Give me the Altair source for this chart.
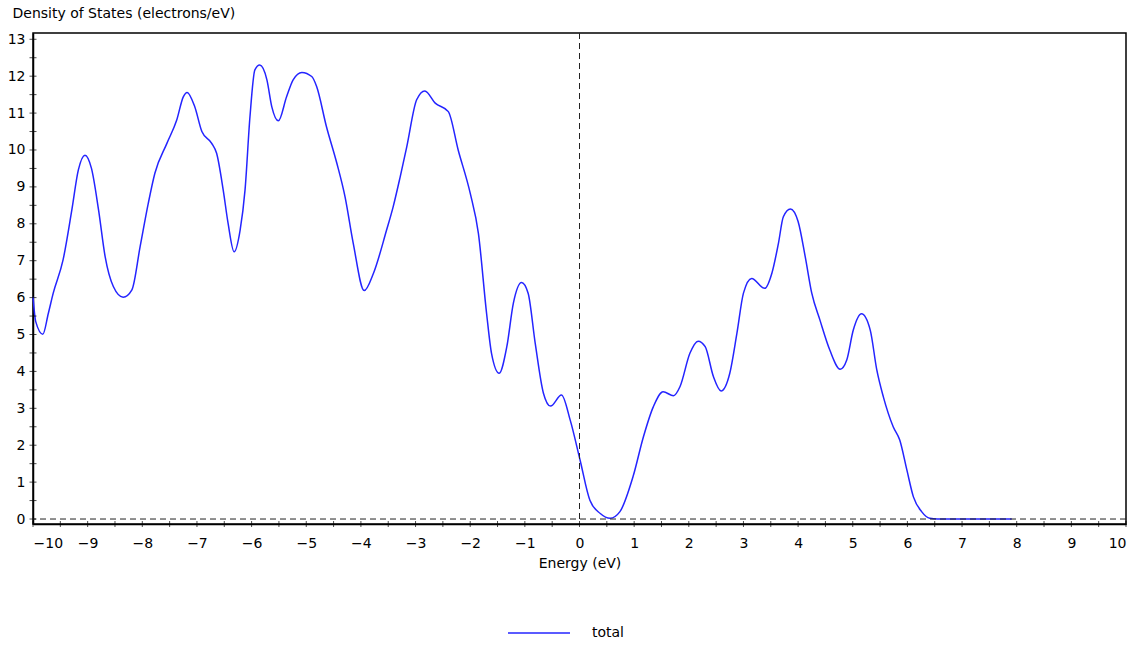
import altair as alt
import pandas as pd

# Total density of states vs energy
energy = [
    -10.00, -9.95, -9.82, -9.72, -9.63, -9.45, -9.29, -9.17, -9.05, -8.93,
    -8.80, -8.68, -8.53, -8.35, -8.19, -8.04, -7.89, -7.77, -7.55, -7.37,
    -7.25, -7.18, -7.04, -6.91, -6.73, -6.64, -6.52, -6.43, -6.32, -6.21,
    -6.12, -6.03, -5.94, -5.85, -5.72, -5.63, -5.51, -5.36, -5.24, -5.08,
    -4.90, -4.81, -4.63, -4.44, -4.29, -4.14, -3.94, -3.77, -3.53, -3.41,
    -3.28, -3.16, -2.98, -2.83, -2.64, -2.40, -2.22, -2.00, -1.85, -1.70,
    -1.61, -1.47, -1.33, -1.21, -1.06, -0.94, -0.81, -0.66, -0.53, -0.33,
    -0.17, 0.01, 0.19, 0.38, 0.56, 0.74, 0.98, 1.17, 1.35, 1.53,
    1.72, 1.84, 2.02, 2.17, 2.30, 2.45, 2.59, 2.75, 2.88, 3.00,
    3.15, 3.39, 3.52, 3.64, 3.73, 3.86, 4.00, 4.13, 4.25, 4.40,
    4.58, 4.77, 4.89, 5.01, 5.16, 5.32, 5.44, 5.56, 5.74, 5.86,
    5.99, 6.11, 6.26, 6.41, 6.55, 7.91,
]
dos = [
    6.02, 5.35, 5.01, 5.57, 6.12, 7.02, 8.37, 9.46, 9.86, 9.50,
    8.37, 7.11, 6.30, 6.01, 6.21, 7.38, 8.56, 9.37, 10.18, 10.81,
    11.44, 11.56, 11.17, 10.50, 10.18, 9.91, 8.92, 8.01, 7.24, 7.83,
    8.92, 10.90, 12.17, 12.30, 11.90, 11.17, 10.79, 11.44, 11.90, 12.10,
    11.99, 11.72, 10.63, 9.64, 8.73, 7.47, 6.19, 6.66, 7.83, 8.46,
    9.28, 10.09, 11.36, 11.60, 11.27, 11.04, 10.00, 8.83, 7.74, 5.57,
    4.49, 3.95, 4.67, 5.85, 6.41, 6.12, 4.76, 3.41, 3.06, 3.36,
    2.68, 1.60, 0.51, 0.15, 0.02, 0.20, 1.15, 2.23, 3.04, 3.45,
    3.34, 3.59, 4.49, 4.82, 4.67, 3.86, 3.47, 3.95, 5.03, 6.12,
    6.52, 6.25, 6.66, 7.47, 8.19, 8.40, 8.06, 7.11, 6.12, 5.39,
    4.58, 4.06, 4.31, 5.12, 5.56, 5.12, 4.04, 3.31, 2.50, 2.14,
    1.33, 0.60, 0.20, 0.02, 0.00, 0.00,
]
series_name = "total"

x_tick_values = [v / 2 for v in range(-20, 21)]     # every 0.5 eV
y_tick_values = [v / 2 for v in range(0, 27)]       # every 0.5 states
x_label_values = list(range(-10, 11))
y_label_values = list(range(0, 14))

W, H = 1093, 491
FONT = "DejaVu Sans"
LINE_BLUE = "#2424ff"

df = pd.DataFrame({"energy": energy, "dos": dos, "series": series_name})
xticks = pd.DataFrame({"v": x_tick_values})
yticks = pd.DataFrame({"v": y_tick_values})

x_scale = alt.Scale(domain=[-10, 10], nice=False, zero=False)
y_scale = alt.Scale(domain=[-0.135, 13.17], nice=False, zero=False)

# one axis definition shared by every layer so the merged axes agree
x_axis = alt.Axis(
    values=x_label_values,
    ticks=False,
    grid=False,
    labelOverlap=False,
    labelPadding=12,
    title="Energy (eV)",
    titlePadding=6,
)
y_axis = alt.Axis(
    values=y_label_values,
    ticks=False,
    grid=False,
    labelOverlap=False,
    labelPadding=8,
    title="Density of States (electrons/eV)",
    titleAngle=0,
    titleAlign="left",
    titleBaseline="middle",
    titleX=-21,
    titleY=-20,
)

curve = alt.Chart(df).mark_line(strokeWidth=1.5, interpolate="monotone").encode(
    x=alt.X("energy:Q", scale=x_scale, axis=x_axis),
    y=alt.Y("dos:Q", scale=y_scale, axis=y_axis),
    color=alt.Color(
        "series:N",
        scale=alt.Scale(domain=[series_name], range=[LINE_BLUE]),
        legend=alt.Legend(
            title=None,
            orient="none",
            legendX=474,
            legendY=568,
            symbolType="stroke",
            symbolSize=3844,
            symbolStrokeWidth=1.5,
            labelOffset=21,
            labelFontSize=14,
            labelFont=FONT,
            labelColor="#000000",
            padding=0,
        ),
    ),
)

zero_line = alt.Chart(pd.DataFrame({"y": [0]})).mark_rule(
    color="#222222", strokeWidth=1, strokeDash=[6, 4]
).encode(y=alt.Y("y:Q", scale=y_scale, axis=y_axis))

fermi_line = alt.Chart(pd.DataFrame({"x": [0]})).mark_rule(
    color="#222222", strokeWidth=1, strokeDash=[6, 4]
).encode(x=alt.X("x:Q", scale=x_scale, axis=x_axis))

# tick marks crossing the axis lines
x_tick_marks = alt.Chart(xticks).mark_tick(
    orient="vertical", size=6, thickness=1, color="#000000", clip=False
).encode(x=alt.X("v:Q", scale=x_scale, axis=x_axis), y=alt.value(H))

y_tick_marks = alt.Chart(yticks).mark_tick(
    orient="horizontal", size=7, thickness=1, color="#000000", clip=False
).encode(y=alt.Y("v:Q", scale=y_scale, axis=y_axis), x=alt.value(0))

chart = (
    alt.layer(curve, zero_line, fermi_line, x_tick_marks, y_tick_marks)
    .properties(
        width=W,
        height=H,
        autosize=alt.AutoSizeParams(type="none"),
        padding={"left": 33, "top": 33, "right": 20, "bottom": 123},
        background="#ffffff",
    )
    .configure_view(stroke="#000000", strokeWidth=1.5)
    .configure_axis(
        domainColor="#000000",
        domainWidth=1.5,
        labelFont=FONT,
        labelFontSize=14,
        labelColor="#000000",
        titleFont=FONT,
        titleFontSize=14,
        titleFontWeight="normal",
        titleColor="#000000",
    )
)

chart.save("out.html", embed_options={"renderer": "svg", "actions": False})
